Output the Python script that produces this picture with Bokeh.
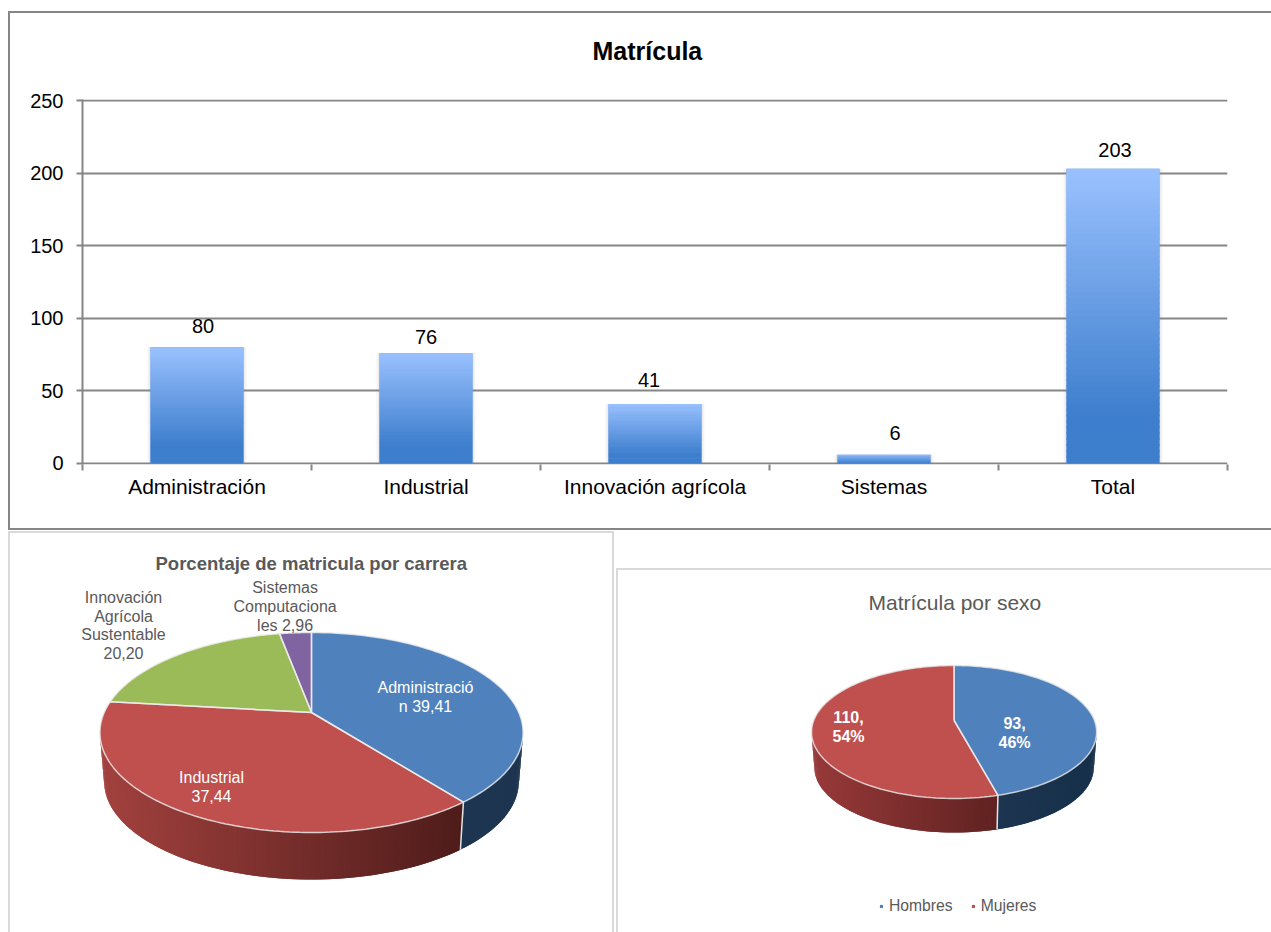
import numpy as np
from bokeh.plotting import figure
from bokeh.layouts import column, row
from bokeh.models import (ColumnDataSource, Range1d, FixedTicker,
                          Legend, LegendItem, Title)
from bokeh.core.properties import value
from bokeh.embed import file_html
from bokeh.resources import INLINE

FONT = "Liberation Sans"

# ---- data -------------------------------------------------------------
bar_categories = ["Administración", "Industrial", "Innovación agrícola", "Sistemas", "Total"]
bar_values = [80, 76, 41, 6, 203]
y_ticks = [0, 50, 100, 150, 200, 250]

career_values = [39.41, 37.44, 20.20, 2.96]
career_labels = ["Administració\nn 39,41", "Industrial\n37,44",
                 "Innovación\nAgrícola\nSustentable\n20,20", "Sistemas\nComputaciona\nles 2,96"]

sex_names = ["Hombres", "Mujeres"]
sex_values = [93, 110]
sex_labels = ["93,\n46%", "110,\n54%"]


def lerp_hex(c0, c1, t):
    a = np.array([int(c0[i:i + 2], 16) for i in (1, 3, 5)], float)
    b = np.array([int(c1[i:i + 2], 16) for i in (1, 3, 5)], float)
    r = (a + (b - a) * t).round().astype(int)
    return "#%02x%02x%02x" % tuple(r)


def frame_css(color, rects):
    """Panel borders painted as a CSS background behind the transparent canvas."""
    g = f"linear-gradient({color},{color})"
    return {"background": ", ".join(f"{g} {x}px {y}px / {w}px {h}px no-repeat" for x, y, w, h in rects)}


# ---- top bar chart ----------------------------------------------------
top = figure(width=1271, height=531, output_backend="svg", toolbar_location=None,
             x_range=Range1d(0, 5), y_range=Range1d(-0.69, 250.69),
             min_border_left=82, min_border_right=44, min_border_top=99, min_border_bottom=67,
             border_fill_color=None, background_fill_color=None,
             styles=frame_css("#868686", [(8, 11, 1263, 2), (8, 528, 1263, 2), (8, 11, 2, 519)]))
top.outline_line_color = None
top.title = Title(text="Matrícula", align="left", offset=510, standoff=69,
                  text_font=FONT, text_font_size="25px", text_font_style="bold", text_color="black")
top.xgrid.visible = False
top.ygrid.grid_line_color = "#868686"
top.ygrid.grid_line_width = 2
top.ygrid.ticker = FixedTicker(ticks=y_ticks)

centers = [i + 0.5 for i in range(len(bar_values))]
BAR_W = 0.406
for grow, alpha in ((0.030, 0.05), (0.020, 0.06), (0.010, 0.08)):
    top.vbar(x=centers, top=bar_values, bottom=-0.6, width=BAR_W + grow,
             fill_color="#808080", fill_alpha=alpha, line_color=None)
top.vbar(x=centers, top=bar_values, bottom=0, width=BAR_W, fill_color="#6a9fe6", line_color=None)

N = 50
gx, gb, gt, gc = [], [], [], []
for c, v in zip(centers, bar_values):
    for k in range(N):
        t0 = k / N
        gx.append(c)
        gb.append(v * t0)
        gt.append(v * (k + 1.3) / N if k < N - 1 else v)
        f = min(1.0, (1 - t0) / 0.85)
        gc.append(lerp_hex("#9bc2ff", "#3d7ecd", f))
top.vbar(x=gx, bottom=gb, top=gt, width=BAR_W, fill_color=gc, line_color=None)

label_dx = [6, 0, -6, 11, 2]
label_dy = [21, 16, 24, 22, 19]
top.text(source=ColumnDataSource(dict(x=centers, y=bar_values, t=[str(v) for v in bar_values],
                                      xo=label_dx, yo=[-d for d in label_dy])),
         x="x", y="y", text="t", x_offset="xo", y_offset="yo", text_align="center",
         text_baseline="middle", text_font=value(FONT), text_font_size="20px", text_color="black")

xa = top.xaxis[0]
xa.ticker = FixedTicker(ticks=centers, minor_ticks=list(range(len(bar_values) + 1)))
xa.major_label_overrides = {c: n for c, n in zip(centers, bar_categories)}
xa.major_tick_in = xa.major_tick_out = 0
xa.minor_tick_in = 0
xa.minor_tick_out = 6
xa.minor_tick_line_color = "#868686"
xa.minor_tick_line_width = 2
xa.axis_line_color = None
xa.major_label_standoff = 4
xa.major_label_text_font = FONT
xa.major_label_text_font_size = "21px"
xa.major_label_text_color = "black"

ya = top.yaxis[0]
ya.ticker = FixedTicker(ticks=y_ticks)
ya.minor_tick_line_color = None
ya.major_tick_in = 0
ya.major_tick_out = 6
ya.major_tick_line_color = "#868686"
ya.major_tick_line_width = 2
ya.axis_line_color = "#868686"
ya.axis_line_width = 2
ya.major_label_standoff = 13
ya.major_label_text_font = FONT
ya.major_label_text_font_size = "20px"
ya.major_label_text_color = "black"


# ---- 3-D pies ---------------------------------------------------------
def pie3d(p, values, cx, cy, a, b, k, depth, scale, tops, walls, rim):
    """cx, cy: apex. Perspective map of a unit disc onto the picture."""
    def proj(theta, sc=1.0, dy=0.0):
        u, v = np.sin(theta), np.cos(theta)
        w = 1 + k * v
        return cx + sc * a * u / w, cy - sc * b * v / w + dy

    total = float(sum(values))
    edges = np.concatenate([[0], np.cumsum(values)]) / total * 2 * np.pi
    front0, front1 = np.arccos(-k), 2 * np.pi - np.arccos(-k)

    # walls: each strip overlaps the next one, so no seams show
    for i in range(len(values)):
        s, e = max(edges[i], front0), min(edges[i + 1], front1)
        if e <= s:
            continue
        th = np.linspace(s, e, max(3, int(np.degrees(e - s)) + 1))
        x0, y0 = proj(th)
        x1, y1 = proj(th, scale, depth)
        xmin, xmax = x0.min(), x0.max()
        order = np.argsort(x0)
        xs, ys, cs = [], [], []
        for n in range(len(th) - 1):
            j, j2 = order[n], order[min(n + 2, len(th) - 1)]
            xs.append([x0[j], x0[j2], x1[j2], x1[j]])
            ys.append([y0[j], y0[j2], y1[j2], y1[j]])
            cs.append(lerp_hex(walls[i][0], walls[i][1], (x0[j] - xmin) / max(1, xmax - xmin)))
        p.patches(xs, ys, fill_color=cs, line_color=None)

    # vertical seams between slices on the wall
    for e in edges[1:-1]:
        if front0 < e < front1:
            x0, y0 = proj(e)
            x1, y1 = proj(e, scale, depth)
            p.line([float(x0), float(x1)], [float(y0), float(y1)], line_color="#e4e4e4", line_width=1.5)

    # top surface
    rends = []
    rx, ry = [], []
    for i in range(len(values)):
        th = np.linspace(edges[i], edges[i + 1], 120)
        x, y = proj(th)
        px = np.concatenate([[cx], x, [cx]])
        py = np.concatenate([[cy], y, [cy]])
        rends.append(p.patch(px, py, fill_color=tops[i], line_color=None))
        rx.append(list(px))
        ry.append(list(py))
    p.multi_line(rx, ry, line_color=rim, line_width=1.5, line_alpha=0.8)
    return rends


def pie_fig(w, x0, x1, rects):
    # the plot's data units are picture pixels; frames of both pies share their top
    f = figure(width=w, height=401, output_backend="svg", toolbar_location=None,
               x_range=Range1d(x0, x1), y_range=Range1d(932, 575),
               min_border_left=0, min_border_right=0, min_border_top=44, min_border_bottom=0,
               border_fill_color=None, background_fill_color=None,
               styles=frame_css("#d9d9d9", rects))
    f.axis.visible = False
    f.grid.visible = False
    f.outline_line_color = None
    return f


# left pie
left = pie_fig(614, 0, 614, [(8, 0, 606, 2), (8, 0, 2, 401), (612, 0, 2, 401)])
left.title = Title(text="Porcentaje de matricula por carrera", align="left", offset=155, standoff=3,
                   text_font=FONT, text_font_size="18.5px", text_font_style="bold", text_color="#595959")
pie3d(left, career_values, 311, 712, 207.3, 96, 0.2, 49.4, 0.98,
      ["#4f81bd", "#c0504d", "#9bbb59", "#8064a2"],
      [("#1d3550", "#1d3550"), ("#a2413e", "#4e1c1a"), ("#000000", "#000000"), ("#000000", "#000000")],
      "#eeeeee")
lx = [425, 211, 123, 284.6]
ly = [696.7, 786.7, 625, 606]
lc = ["white", "white", "#595959", "#595959"]
left.text(x=lx, y=ly, text=career_labels, text_color=lc, text_align="center", text_baseline="middle",
          text_font=value(FONT), text_font_size="16px", text_line_height=1.1)

# right pie
right = pie_fig(657, 614, 1271, [(2, 37, 655, 2), (2, 37, 2, 364)])
right.title = Title(text="Matrícula por sexo", align="left", offset=254, standoff=-76,
                    text_font=FONT, text_font_size="21px", text_font_style="normal", text_color="#595959")
rends = pie3d(right, sex_values, 953.6, 720, 140.4, 64.5, 0.173, 35.6, 0.98,
              ["#4f81bd", "#c0504d"],
              [("#1d3550", "#16304a"), ("#98393a", "#5f2220")],
              "#e8e8e8")
right.text(x=[1014, 848], y=[732.5, 726.5], text=sex_labels, text_color="white", text_align="center",
           text_baseline="middle", text_font=value(FONT), text_font_size="16px",
           text_font_style="bold", text_line_height=1.15)
legend = Legend(items=[LegendItem(label=n, renderers=[r]) for n, r in zip(sex_names, rends)],
                orientation="horizontal", location=(265, 17), border_line_color=None,
                background_fill_alpha=0, glyph_width=4, glyph_height=4, padding=0, margin=0,
                spacing=18, label_standoff=6, label_text_font=FONT, label_text_font_size="15.7px",
                label_text_color="#595959")
right.add_layout(legend)

root = column(top, row(left, right, spacing=0), spacing=0)
open("out.html", "w").write(file_html(root, INLINE))
